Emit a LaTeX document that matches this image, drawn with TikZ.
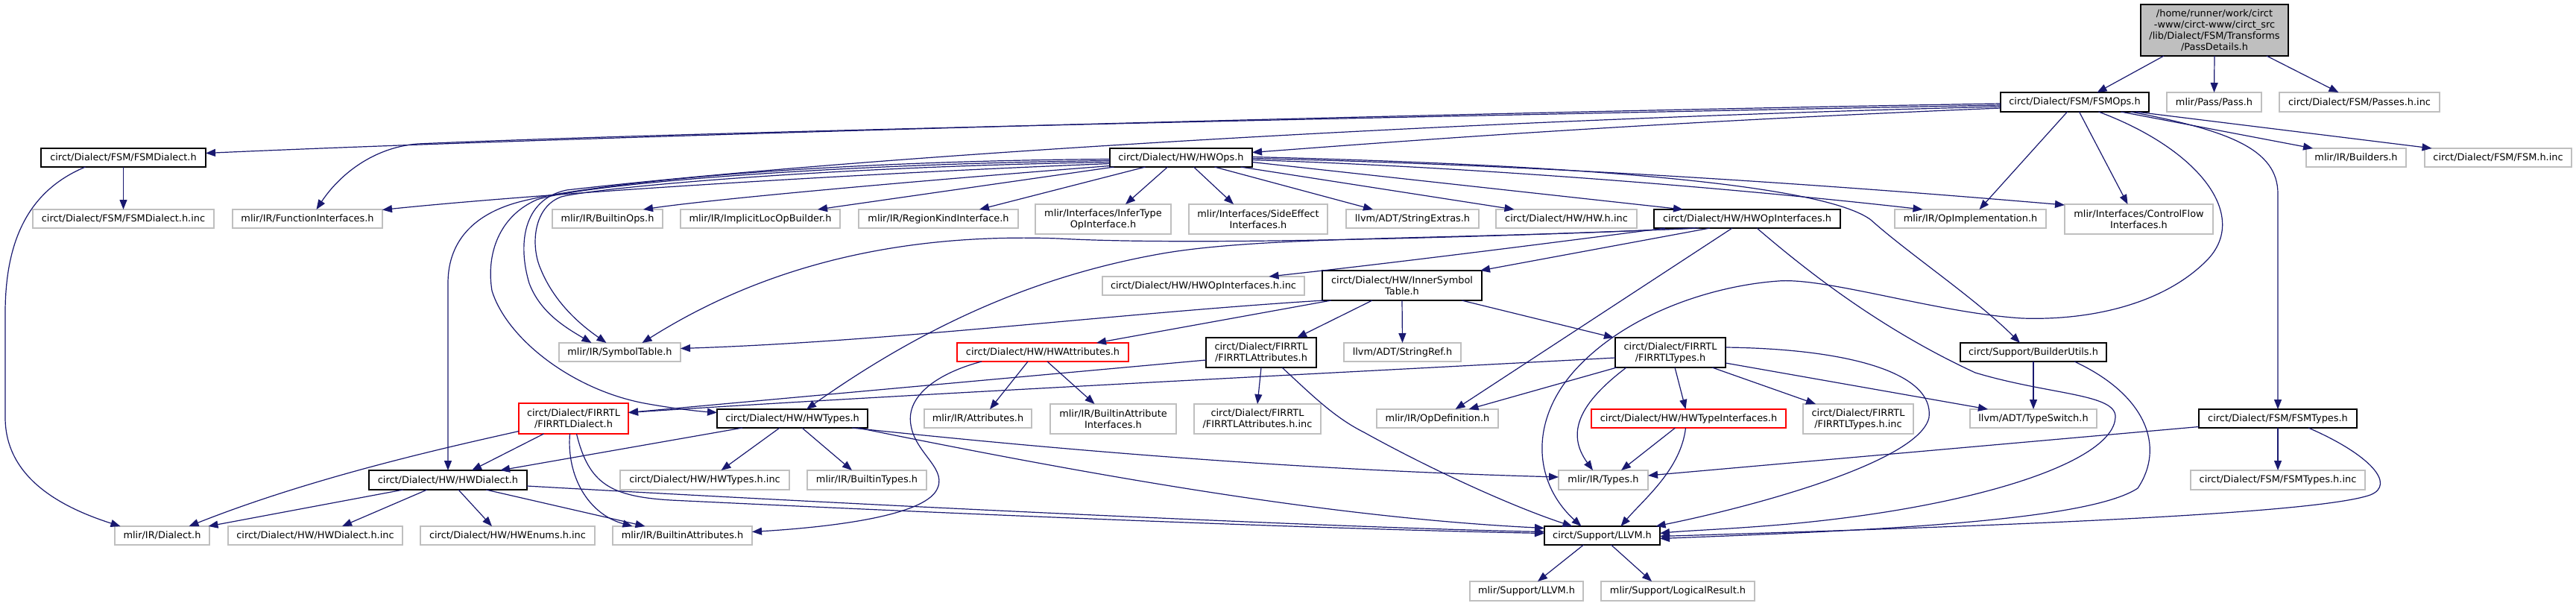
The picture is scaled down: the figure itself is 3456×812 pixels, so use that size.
\documentclass[tikz,border=0pt]{standalone}
\usepackage{fontspec}
\setmainfont{DejaVu Sans}
\usetikzlibrary{arrows.meta}
\definecolor{edgec}{HTML}{191970}
\definecolor{grayb}{HTML}{BFBFBF}
\definecolor{rootf}{HTML}{BFBFBF}
\definecolor{redb}{HTML}{FF0000}
\begin{document}
\begin{tikzpicture}[x=1pt,y=-1pt,
  every node/.style={font=\fontsize{12.9}{15}\selectfont, inner sep=0pt, outer sep=0pt, align=center},
  wh/.style 2 args={minimum width=#1pt, minimum height=#2pt},
  nb/.style={draw=#1, line width=1.4pt, fill=white},
  gb/.style={nb=grayb},
  bb/.style={nb=black},
  rb/.style={nb=redb},
  rootb/.style={draw=black, line width=1.4pt, fill=rootf},
  edge/.style={draw=edgec, line width=1.2pt, -{Triangle[length=13pt,width=10pt]}}]
\fill[white] (0,0) rectangle (3456,812);
\useasboundingbox (0,0) rectangle (3456,812);

% ---- nodes ----
\node[rootb, wh={198}{69}] (pd) at (2971,40.5) {/home/runner/work/circt\\-www/circt-www/circt\_src\\/lib/Dialect/FSM/Transforms\\/PassDetails.h};
\node[bb, wh={199}{26}] (fsmops) at (2783.5,137) {circt/Dialect/FSM/FSMOps.h};
\node[gb, wh={127}{26}] (pass) at (2970.5,137) {mlir/Pass/Pass.h};
\node[gb, wh={215}{26}] (passes) at (3165.5,137) {circt/Dialect/FSM/Passes.h.inc};
\node[gb, wh={134}{25}] (builders) at (3161,211.5) {mlir/IR/Builders.h};
\node[gb, wh={197}{25}] (fsminc) at (3351.5,211.5) {circt/Dialect/FSM/FSM.h.inc};
\node[bb, wh={221}{25}] (fsmdialect) at (165.5,211.5) {circt/Dialect/FSM/FSMDialect.h};
\node[bb, wh={191}{25}] (hwops) at (1584.5,211.5) {circt/Dialect/HW/HWOps.h};

\node[gb, wh={243}{25}] (fsmdialinc) at (165.5,293.5) {circt/Dialect/FSM/FSMDialect.h.inc};
\node[gb, wh={201}{25}] (funcif) at (412.5,293.5) {mlir/IR/FunctionInterfaces.h};
\node[gb, wh={148}{25}] (builtinops) at (815,293.5) {mlir/IR/BuiltinOps.h};
\node[gb, wh={214}{25}] (implicitloc) at (1020,293.5) {mlir/IR/ImplicitLocOpBuilder.h};
\node[gb, wh={214}{25}] (regionkind) at (1259,293.5) {mlir/IR/RegionKindInterface.h};
\node[gb, wh={182}{40}] (infertype) at (1480,294) {mlir/Interfaces/InferType\\OpInterface.h};
\node[gb, wh={186}{40}] (sideeff) at (1688,294) {mlir/Interfaces/SideEffect\\Interfaces.h};
\node[gb, wh={178}{25}] (strext) at (1895,293.5) {llvm/ADT/StringExtras.h};
\node[gb, wh={189}{25}] (hwinc) at (2101.5,293.5) {circt/Dialect/HW/HW.h.inc};
\node[bb, wh={250}{25}] (hwopif) at (2344,293.5) {circt/Dialect/HW/HWOpInterfaces.h};
\node[gb, wh={203}{25}] (opimpl) at (2643.5,293.5) {mlir/IR/OpImplementation.h};
\node[gb, wh={199}{40}] (cflow) at (2869.5,294) {mlir/Interfaces/ControlFlow\\Interfaces.h};

\node[gb, wh={271}{25}] (hwopifinc) at (1614.5,383.5) {circt/Dialect/HW/HWOpInterfaces.h.inc};
\node[bb, wh={214}{40}] (innersym) at (1881,383) {circt/Dialect/HW/InnerSymbol\\Table.h};

\node[gb, wh={163}{25}] (symtab) at (831.5,472.5) {mlir/IR/SymbolTable.h};
\node[rb, wh={230}{25}] (hwattr) at (1399,472.5) {circt/Dialect/HW/HWAttributes.h};
\node[bb, wh={148}{40}] (firattr) at (1692,473) {circt/Dialect/FIRRTL\\/FIRRTLAttributes.h};
\node[gb, wh={157}{25}] (strref) at (1881.5,472.5) {llvm/ADT/StringRef.h};
\node[bb, wh={148}{40}] (firtypes) at (2241,473) {circt/Dialect/FIRRTL\\/FIRRTLTypes.h};
\node[bb, wh={196}{25}] (builderutils) at (2728,472.5) {circt/Support/BuilderUtils.h};

\node[rb, wh={147}{41}] (firdialect) at (769.5,561.5) {circt/Dialect/FIRRTL\\/FIRRTLDialect.h};
\node[bb, wh={202}{25}] (hwtypes) at (1063,561.5) {circt/Dialect/HW/HWTypes.h};
\node[gb, wh={144}{25}] (attributes) at (1312,561.5) {mlir/IR/Attributes.h};
\node[gb, wh={169}{40}] (battrif) at (1493.5,562) {mlir/IR/BuiltinAttribute\\Interfaces.h};
\node[gb, wh={170}{40}] (firattrinc) at (1687,562) {circt/Dialect/FIRRTL\\/FIRRTLAttributes.h.inc};
\node[gb, wh={163}{25}] (opdef) at (1928.5,561.5) {mlir/IR/OpDefinition.h};
\node[rb, wh={261}{25}] (hwtypeif) at (2265.5,561.5) {circt/Dialect/HW/HWTypeInterfaces.h};
\node[gb, wh={148}{40}] (firtypesinc) at (2493,562) {circt/Dialect/FIRRTL\\/FIRRTLTypes.h.inc};
\node[gb, wh={170}{25}] (typeswitch) at (2728,561.5) {llvm/ADT/TypeSwitch.h};
\node[bb, wh={212}{25}] (fsmtypes) at (3056,561.5) {circt/Dialect/FSM/FSMTypes.h};

\node[bb, wh={212}{26}] (hwdialect) at (601,644) {circt/Dialect/HW/HWDialect.h};
\node[gb, wh={227}{26}] (hwtypesinc) at (945.5,644) {circt/Dialect/HW/HWTypes.h.inc};
\node[gb, wh={160}{26}] (builtintypes) at (1163,644) {mlir/IR/BuiltinTypes.h};
\node[gb, wh={120}{26}] (types) at (2151,644) {mlir/IR/Types.h};
\node[gb, wh={234}{26}] (fsmtypesinc) at (3056,644) {circt/Dialect/FSM/FSMTypes.h.inc};

\node[gb, wh={127}{25}] (dialect) at (217.5,718.5) {mlir/IR/Dialect.h};
\node[gb, wh={234}{25}] (hwdialinc) at (423,718.5) {circt/Dialect/HW/HWDialect.h.inc};
\node[gb, wh={234}{25}] (hwenums) at (681,718.5) {circt/Dialect/HW/HWEnums.h.inc};
\node[gb, wh={187}{25}] (builtinattr) at (915.5,718.5) {mlir/IR/BuiltinAttributes.h};
\node[bb, wh={155}{25}] (llvm) at (2149.5,718.5) {circt/Support/LLVM.h};

\node[gb, wh={152}{26}] (mllvm) at (2048,793) {mlir/Support/LLVM.h};
\node[gb, wh={206}{26}] (logres) at (2251,793) {mlir/Support/LogicalResult.h};

% ---- edges ----
% PassDetails
\draw[edge] ([xshift=-68pt]pd.south) -- ([xshift=30pt]fsmops.north);
\draw[edge] (pd.south) -- (pass.north);
\draw[edge] ([xshift=70pt]pd.south) -- ([xshift=-28pt]passes.north);

% FSMOps
\draw[edge] ([yshift=-2pt]fsmops.west) .. controls (2000,150) and (800,182) .. ([yshift=6pt]fsmdialect.east);
\draw[edge] ([yshift=-4pt]fsmops.west) .. controls (1800,158) and (900,178) .. (560,193) .. controls (500,198) and (455,235) .. ([xshift=12pt]funcif.north);
\draw[edge] ([yshift=-8pt]fsmops.west) .. controls (2200,165) and (1900,188) .. ([yshift=7pt]hwops.east);
\draw[edge] ([yshift=-6pt]fsmops.west) .. controls (2000,160) and (1200,205) .. (760,255) .. controls (700,268) and (695,330) .. (710,380) .. controls (725,420) and (760,440) .. ([xshift=-38pt]symtab.north);
\draw[edge] ([xshift=-10pt]fsmops.south) -- ([xshift=12pt]opimpl.north);
\draw[edge] ([xshift=6pt]fsmops.south) -- ([xshift=-15pt]cflow.north);
\draw[edge] ([xshift=62pt]fsmops.south) -- ([xshift=-58pt]builders.north);
\draw[edge] ([xshift=82pt]fsmops.south) -- ([xshift=-89pt]fsminc.north);
\draw[edge] ([xshift=75pt]fsmops.south) .. controls (2990,175) and (3056,200) .. (3056,260) -- (fsmtypes.north);
\draw[edge] ([xshift=32pt]fsmops.south) .. controls (2950,200) and (3020,290) .. (2960,350) .. controls (2900,410) and (2800,430) .. (2713,427) .. controls (2600,420) and (2450,372) .. (2386,377) .. controls (2300,383) and (2180,420) .. (2110,500) .. controls (2050,570) and (2060,650) .. ([xshift=-28pt]llvm.north);

% HWOps
\draw[edge] ([yshift=-8pt]hwops.west) .. controls (1100,235) and (700,262) .. ([yshift=12pt]funcif.east);
\draw[edge] ([yshift=-11pt]hwops.west) .. controls (1200,245) and (950,268) .. ([xshift=48pt]builtinops.north);
\draw[edge] ([xshift=-90pt]hwops.south) -- ([xshift=77pt]implicitloc.north);
\draw[edge] ([xshift=-48pt]hwops.south) -- ([xshift=55pt]regionkind.north);
\draw[edge] ([xshift=-18pt]hwops.south) -- ([xshift=30pt]infertype.north);
\draw[edge] ([xshift=17pt]hwops.south) -- ([xshift=-33pt]sideeff.north);
\draw[edge] ([xshift=45pt]hwops.south) -- ([xshift=-53pt]strext.north);
\draw[edge] ([xshift=80pt]hwops.south) -- ([xshift=-70pt]hwinc.north);
\draw[edge] ([yshift=-6pt]hwops.east) -- ([xshift=-86pt]hwopif.north);
\draw[edge] ([yshift=-3pt]hwops.east) .. controls (2000,225) and (2350,255) .. ([xshift=-64pt]opimpl.north);
\draw[edge] ([yshift=-1pt]hwops.east) .. controls (2100,222) and (2500,252) .. ([yshift=19pt]cflow.west);
\draw[edge] ([yshift=1pt]hwops.east) .. controls (2150,222) and (2450,250) .. (2510,295) .. controls (2560,340) and (2650,400) .. ([xshift=-18pt]builderutils.north);
\draw[edge] ([yshift=-2pt]hwops.west) .. controls (1100,216) and (800,245) .. (700,270) .. controls (640,285) and (601,320) .. (601,380) -- (hwdialect.north);
\draw[edge] ([yshift=-4pt]hwops.west) .. controls (1100,220) and (780,248) .. (720,268) .. controls (670,290) and (652,340) .. (660,390) .. controls (680,455) and (770,525) .. (870,542) .. controls (910,549) and (940,552) .. ([yshift=8pt]hwtypes.west);
\draw[edge] ([yshift=-6pt]hwops.west) .. controls (1100,224) and (800,252) .. (753,264) .. controls (715,278) and (712,330) .. (725,360) .. controls (745,410) and (785,440) .. ([xshift=-18pt]symtab.north);

% HWOpInterfaces
\draw[edge] ([xshift=-65pt]hwopif.south) .. controls (2000,318) and (1600,330) .. (1420,320) .. controls (1200,312) and (1020,360) .. ([xshift=30pt]symtab.north);
\draw[edge] ([xshift=-70pt]hwopif.south) .. controls (1950,322) and (1700,316) .. (1560,340) .. controls (1400,368) and (1250,430) .. ([xshift=19pt]hwtypes.north);
\draw[edge] ([xshift=-110pt]hwopif.south) .. controls (2050,330) and (1850,355) .. ([xshift=88pt]hwopifinc.north);
\draw[edge] ([xshift=-50pt]hwopif.south) -- ([xshift=105pt]innersym.north);
\draw[edge] ([xshift=-20pt]hwopif.south) -- ([xshift=24pt]opdef.north);
\draw[edge] ([xshift=13pt]hwopif.south) .. controls (2420,360) and (2520,440) .. (2650,500) .. controls (2750,530) and (2840,528) .. (2838,560) .. controls (2835,620) and (2650,680) .. (2400,703) .. controls (2320,710) and (2260,712) .. ([yshift=3pt]llvm.east);

% InnerSymbolTable
\draw[edge] ([xshift=-105pt]innersym.south) .. controls (1500,420) and (1200,458) .. ([yshift=5pt]symtab.east);
\draw[edge] ([xshift=-95pt]innersym.south) -- ([xshift=72pt]hwattr.north);
\draw[edge] ([xshift=-40pt]innersym.south) -- ([xshift=48pt]firattr.north);
\draw[edge] (innersym.south) -- (strref.north);
\draw[edge] ([xshift=80pt]innersym.south) -- ([xshift=-76pt]firtypes.north);

% FIRRTLAttributes
\draw[edge] ([yshift=-10pt]firattr.west) -- ([yshift=8pt]firdialect.east);
\draw[edge] (firattr.south) -- (firattrinc.north);
\draw[edge] ([xshift=28pt]firattr.south) .. controls (1760,530) and (1790,560) .. (1830,580) .. controls (1920,630) and (2030,680) .. ([xshift=-40pt]llvm.north);

% FIRRTLTypes
\draw[edge] ([yshift=-7pt]firtypes.west) .. controls (1700,505) and (1200,530) .. ([yshift=8pt]firdialect.east);
\draw[edge] ([xshift=-72pt]firtypes.south) -- ([xshift=42pt]opdef.north);
\draw[edge] ([xshift=-59pt]firtypes.south) .. controls (2120,540) and (2100,580) .. ([xshift=-14pt]types.north);
\draw[edge] ([xshift=6pt]firtypes.south) -- ([xshift=-4pt]hwtypeif.north);
\draw[edge] ([xshift=56pt]firtypes.south) -- ([xshift=-57pt]firtypesinc.north);
\draw[edge] ([yshift=-14pt]firtypes.east) -- ([xshift=-61pt]typeswitch.north);
\draw[edge] ([yshift=7pt]firtypes.east) .. controls (2480,468) and (2595,500) .. (2588,560) .. controls (2575,620) and (2350,680) .. ([xshift=72pt]llvm.north);

% HWTypeInterfaces
\draw[edge] ([xshift=-18pt]hwtypeif.south) -- ([xshift=24pt]types.north);
\draw[edge] ([xshift=-4pt]hwtypeif.south) .. controls (2255,630) and (2205,670) .. ([xshift=25pt]llvm.north);

% FSMTypes
\draw[edge] ([yshift=-11pt]fsmtypes.west) -- ([yshift=6pt]types.east);
\draw[edge] (fsmtypes.south) -- (fsmtypesinc.north);
\draw[edge] ([xshift=41pt]fsmtypes.south) .. controls (3180,610) and (3215,650) .. (3180,664) .. controls (3100,692) and (2600,708) .. ([yshift=-1pt]llvm.east);

% BuilderUtils
\draw[edge] (builderutils.south) -- (typeswitch.north);
\draw[edge] ([xshift=55pt]builderutils.south) .. controls (2880,530) and (2905,600) .. (2868,655) .. controls (2800,700) and (2500,712) .. ([yshift=-4pt]llvm.east);

% FIRRTLDialect
\draw[edge] ([yshift=-17pt]firdialect.west) .. controls (600,600) and (420,640) .. ([xshift=36pt]dialect.north);
\draw[edge] ([xshift=-40pt]firdialect.south) -- ([xshift=32pt]hwdialect.north);
\draw[edge] ([xshift=-5pt]firdialect.south) .. controls (760,640) and (790,690) .. ([xshift=-67pt]builtinattr.north);
\draw[edge] ([xshift=4pt]firdialect.south) .. controls (790,650) and (820,666) .. (900,671) .. controls (1400,695) and (1800,710) .. ([yshift=3pt]llvm.west);

% HWDialect
\draw[edge] ([xshift=-60pt]hwdialect.south) -- ([xshift=62pt]dialect.north);
\draw[edge] ([xshift=-28pt]hwdialect.south) -- ([xshift=36pt]hwdialinc.north);
\draw[edge] ([xshift=14pt]hwdialect.south) -- ([xshift=-21pt]hwenums.north);
\draw[edge] ([xshift=51pt]hwdialect.south) -- ([xshift=-50pt]builtinattr.north);
\draw[edge] ([yshift=-8pt]hwdialect.east) .. controls (1200,680) and (1800,708) .. ([yshift=5pt]llvm.west);

% HWTypes
\draw[edge] ([xshift=-67pt]hwtypes.south) -- ([xshift=70pt]hwdialect.north);
\draw[edge] ([xshift=-17pt]hwtypes.south) -- ([xshift=22pt]hwtypesinc.north);
\draw[edge] ([xshift=13pt]hwtypes.south) -- ([xshift=-20pt]builtintypes.north);
\draw[edge] ([xshift=80pt]hwtypes.south) .. controls (1500,612) and (1800,632) .. ([yshift=4pt]types.west);
\draw[edge] ([xshift=88pt]hwtypes.south) .. controls (1500,645) and (1800,695) .. ([yshift=10pt]llvm.west);

% HWAttributes
\draw[edge] ([xshift=-82pt]hwattr.south) .. controls (1260,500) and (1215,530) .. (1222,570) .. controls (1228,610) and (1275,630) .. (1255,660) .. controls (1230,695) and (1100,708) .. ([yshift=5pt]builtinattr.east);
\draw[edge] ([xshift=-20pt]hwattr.south) -- ([xshift=16pt]attributes.north);
\draw[edge] ([xshift=6pt]hwattr.south) -- ([xshift=-25pt]battrif.north);

% FSMDialect
\draw[edge] (fsmdialect.south) -- (fsmdialinc.north);
\draw[edge] ([xshift=-51pt]fsmdialect.south) .. controls (40,255) and (7,320) .. (7,420) -- (7,560) .. controls (7,640) and (80,680) .. ([xshift=-56pt]dialect.north);

% LLVM
\draw[edge] ([xshift=-25pt]llvm.south) -- ([xshift=15pt]mllvm.north);
\draw[edge] ([xshift=12pt]llvm.south) -- ([xshift=-35pt]logres.north);
\end{tikzpicture}
\end{document}
